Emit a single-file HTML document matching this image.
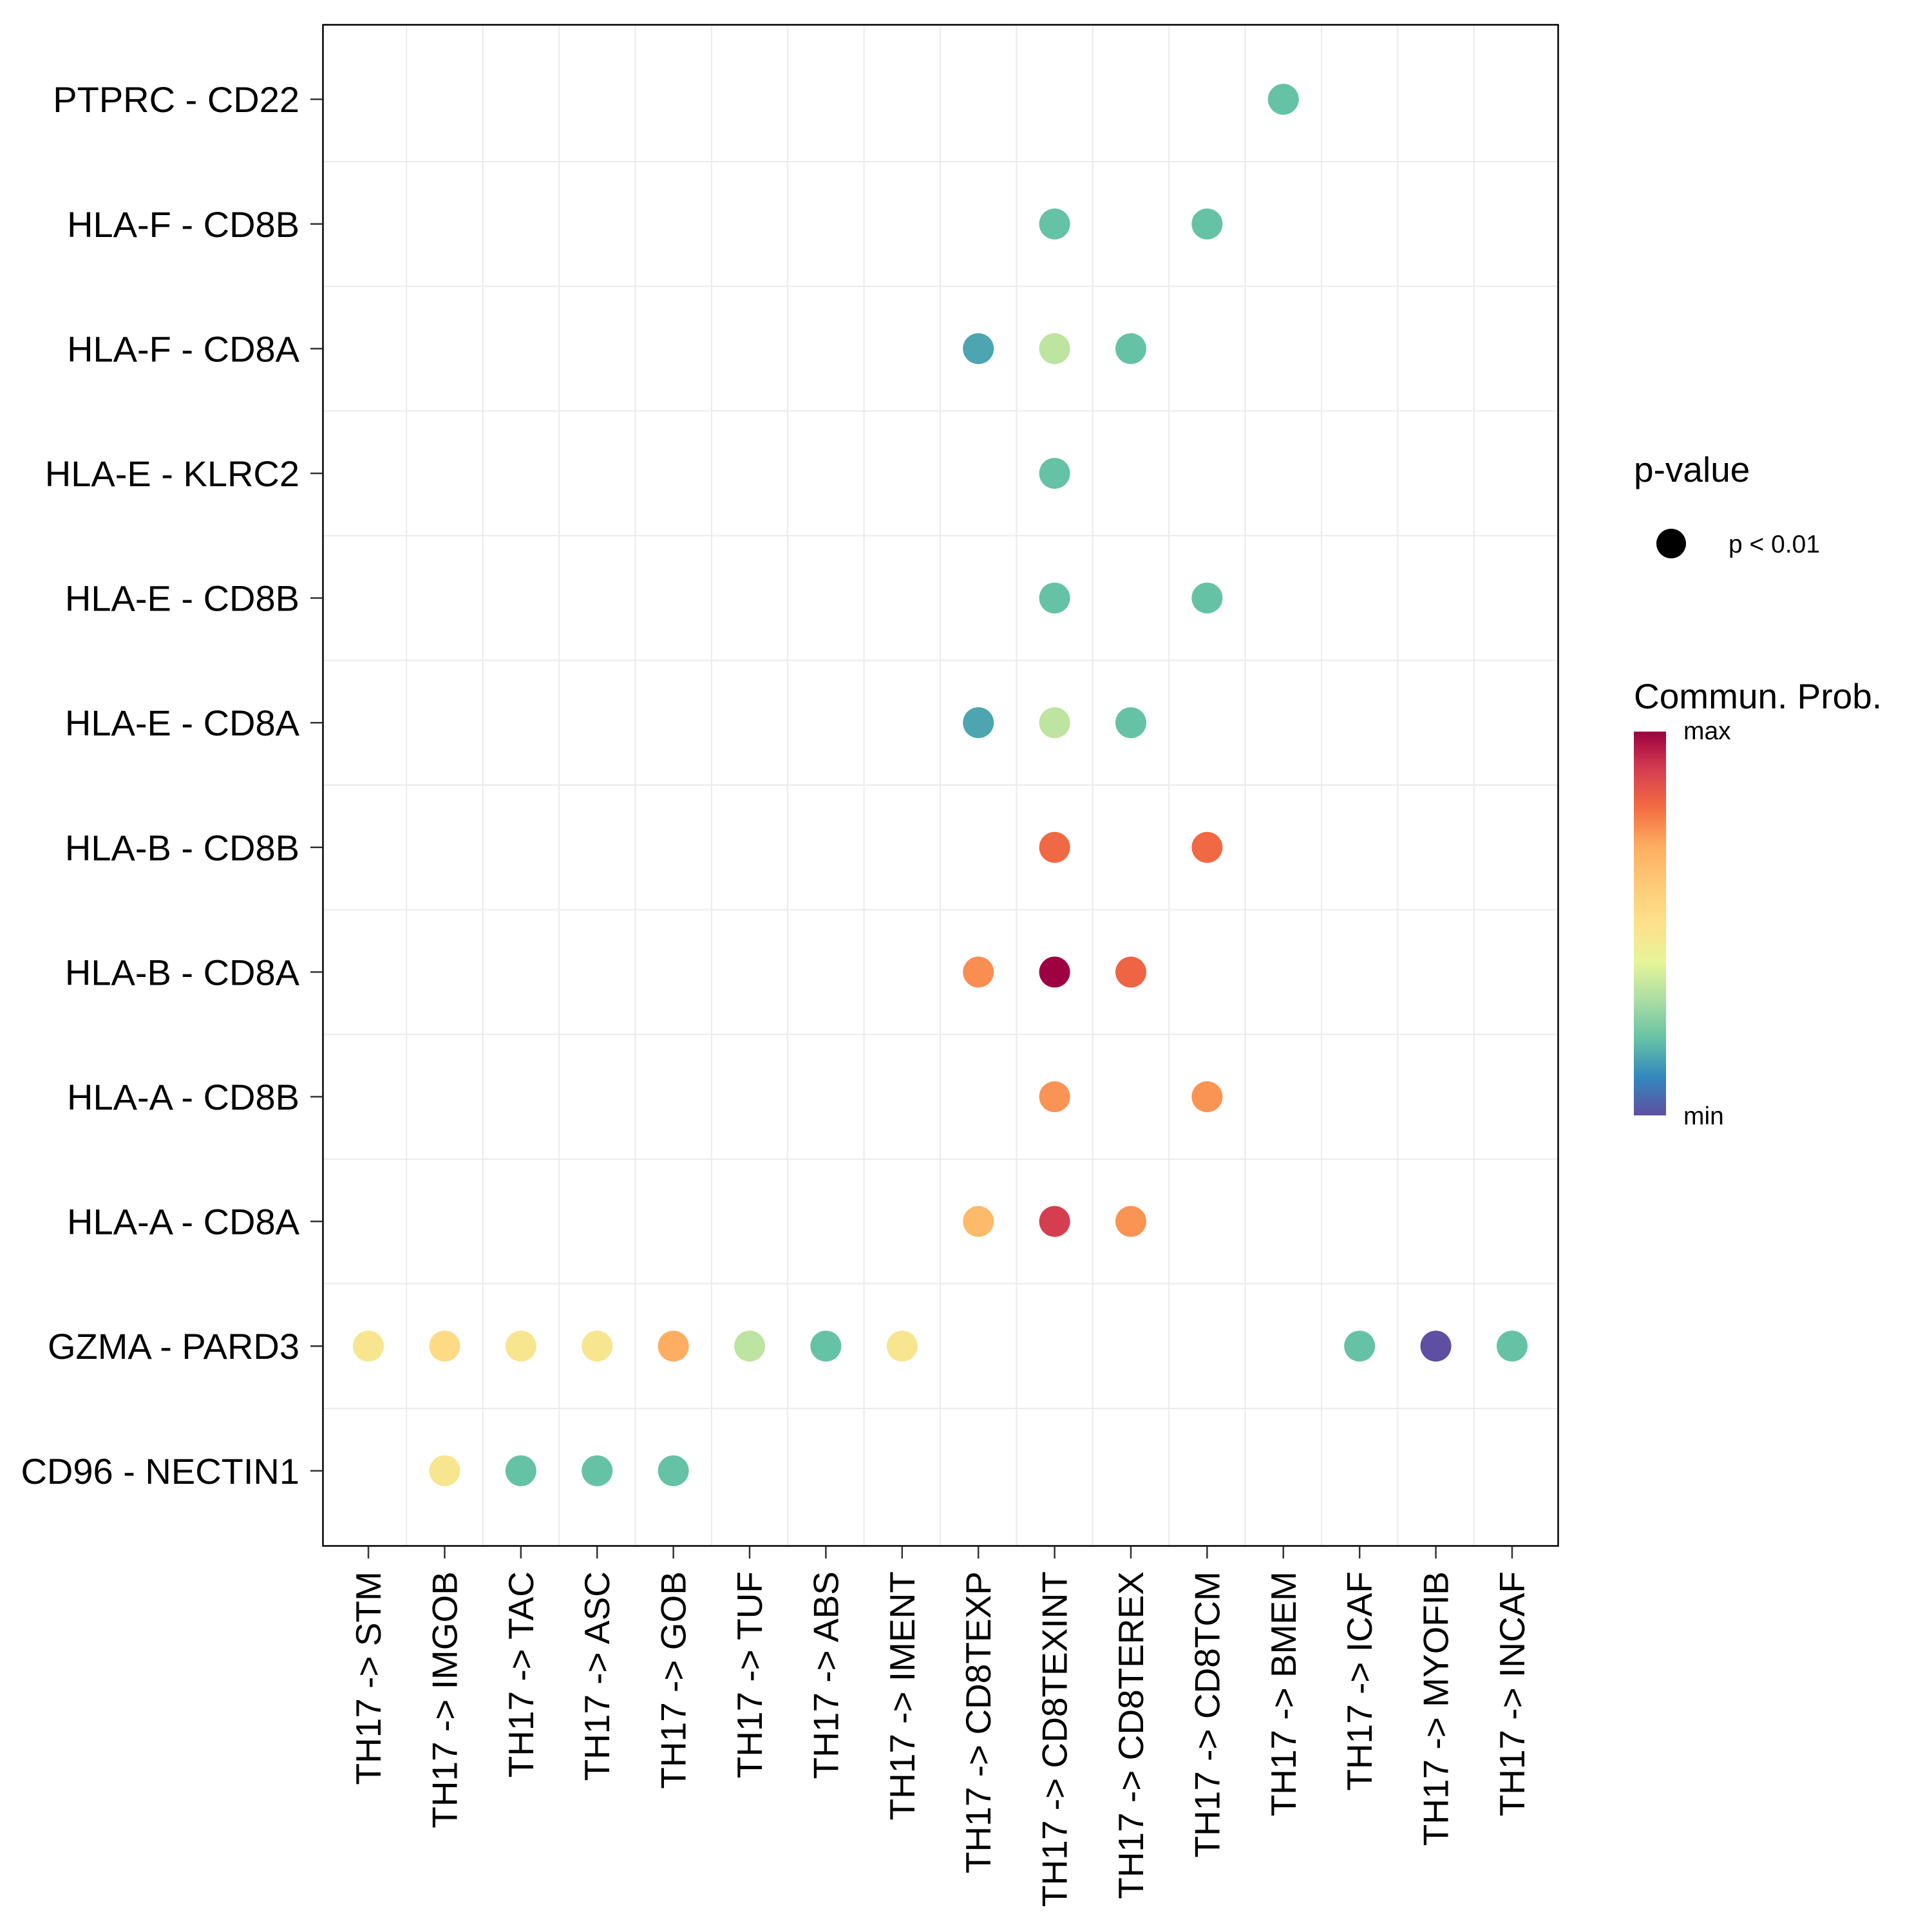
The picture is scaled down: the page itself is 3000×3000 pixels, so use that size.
<!DOCTYPE html>
<html><head><meta charset="utf-8"><style>
html,body{margin:0;padding:0;background:#fff;}
svg{display:block;font-family:"Liberation Sans",Arial,sans-serif;}
</style></head><body>
<svg id="chart" width="3000" height="3000" viewBox="0 0 3000 3000">
<rect x="0" y="0" width="3000" height="3000" fill="#fff"/>
<g id="grid"></g>
<g id="dots"></g>
<rect x="501.5" y="38.5" width="1918" height="2362" fill="none" stroke="#000" stroke-width="2.5"/>
<g id="yaxis"></g>
<g id="xaxis"></g>
<g>
<text x="2537" y="748" font-size="55">p-value</text>
<circle cx="2595" cy="844" r="23" fill="#000"/>
<text x="2684" y="858" font-size="39">p &lt; 0.01</text>
</g>
<g>
<text x="2537" y="1100" font-size="55">Commun. Prob.</text>
<defs><linearGradient id="cb" x1="0" y1="1" x2="0" y2="0">
<stop offset="0" stop-color="#5E4FA2"/><stop offset="0.1" stop-color="#3288BD"/><stop offset="0.2" stop-color="#66C2A5"/><stop offset="0.3" stop-color="#ABDDA4"/><stop offset="0.4" stop-color="#E6F598"/><stop offset="0.5" stop-color="#FEE08B"/><stop offset="0.6" stop-color="#FDCB78"/><stop offset="0.7" stop-color="#FDAE61"/><stop offset="0.8" stop-color="#F46D43"/><stop offset="0.9" stop-color="#D53E4F"/><stop offset="1" stop-color="#9E0142"/>
</linearGradient></defs>
<rect x="2537" y="1136" width="50" height="596" fill="url(#cb)"/>
<text x="2614" y="1148" font-size="39">max</text>
<text x="2614" y="1746" font-size="39">min</text>
</g>
</svg>
<script>
const rowLabels = ["PTPRC - CD22","HLA-F - CD8B","HLA-F - CD8A","HLA-E - KLRC2","HLA-E - CD8B","HLA-E - CD8A","HLA-B - CD8B","HLA-B - CD8A","HLA-A - CD8B","HLA-A - CD8A","GZMA - PARD3","CD96 - NECTIN1"];
const colLabels = ["TH17 -> STM","TH17 -> IMGOB","TH17 -> TAC","TH17 -> ASC","TH17 -> GOB","TH17 -> TUF","TH17 -> ABS","TH17 -> IMENT","TH17 -> CD8TEXP","TH17 -> CD8TEXINT","TH17 -> CD8TEREX","TH17 -> CD8TCM","TH17 -> BMEM","TH17 -> ICAF","TH17 -> MYOFIB","TH17 -> INCAF"];
const pointRow = [0, 1,1, 2,2,2, 3, 4,4, 5,5,5, 6,6, 7,7,7, 8,8, 9,9,9, 10,10,10,10,10,10,10,10,10,10,10, 11,11,11,11];
const pointCol = [12, 9,11, 8,9,10, 9, 9,11, 8,9,10, 9,11, 8,9,10, 9,11, 8,9,10, 0,1,2,3,4,5,6,7,13,14,15, 1,2,3,4];
const pointVal = [0.2, 0.2,0.2, 0.15,0.33,0.2, 0.2, 0.2,0.2, 0.15,0.33,0.2, 0.81,0.81, 0.75,1.0,0.82, 0.74,0.74, 0.66,0.9,0.74, 0.47,0.53,0.47,0.47,0.7,0.33,0.2,0.47,0.2,0.0,0.2, 0.47,0.2,0.2,0.2];

const NS="http://www.w3.org/2000/svg";
const L=501,T=38,W=1918,H=2362;
const colUnit=W/(colLabels.length-1+1.2), rowUnit=H/(rowLabels.length-1+1.2);
function xPos(i){return L+(0.6+i)*colUnit;}
function yPos(i){return T+(0.6+i)*rowUnit;}
const stops=["#5E4FA2","#3288BD","#66C2A5","#ABDDA4","#E6F598","#FEE08B","#FDCB78","#FDAE61","#F46D43","#D53E4F","#9E0142"];
function hex(h){return [1,3,5].map(k=>parseInt(h.substr(k,2),16));}
function color(v){v=Math.max(0,Math.min(1,v));const p=v*10,i=Math.min(9,Math.floor(p)),t=p-i;const a=hex(stops[i]),b=hex(stops[i+1]);return "rgb("+a.map((c,k)=>Math.round(c+(b[k]-c)*t)).join(",")+")";}
function mk(tag,attrs,parent){const e=document.createElementNS(NS,tag);for(const k in attrs)e.setAttribute(k,attrs[k]);parent.appendChild(e);return e;}
const grid=document.getElementById('grid');
for(let i=0;i<colLabels.length-1;i++){
  const x=(xPos(i)+xPos(i+1))/2;
  const e=mk('line',{x1:x,x2:x,y1:T,y2:T+H,stroke:'#ebebeb','stroke-width':2},grid);
  
  
}
for(let i=0;i<rowLabels.length-1;i++){
  const y=(yPos(i)+yPos(i+1))/2;
  const e=mk('line',{x1:L,x2:L+W,y1:y,y2:y,stroke:'#ebebeb','stroke-width':2},grid);
  
  
}
const dots=document.getElementById('dots');
for(let k=0;k<pointVal.length;k++){
  const c=mk('circle',{cx:xPos(pointCol[k]),cy:yPos(pointRow[k]),r:24,fill:color(pointVal[k])},dots);
  
  
}
const ya=document.getElementById('yaxis');
rowLabels.forEach((lab,i)=>{
  const y=yPos(i);
  const tk=mk('line',{x1:482,x2:501,y1:y,y2:y,stroke:'#333','stroke-width':2.5},ya);
  
  
  const t=mk('text',{x:465,y:y+20,'font-size':56,'text-anchor':'end',fill:'#000'},ya);
  t.textContent=lab;
  
  
});
const xa=document.getElementById('xaxis');
colLabels.forEach((lab,i)=>{
  const x=xPos(i);
  const tk=mk('line',{x1:x,x2:x,y1:2401,y2:2420,stroke:'#333','stroke-width':2.5},xa);
  
  
  const t=mk('text',{x:0,y:0,'font-size':55,'text-anchor':'end',fill:'#000',transform:'translate('+(x+19)+',2440) rotate(-90)'},xa);
  t.textContent=lab;
  
  
});
</script>
</body></html>
